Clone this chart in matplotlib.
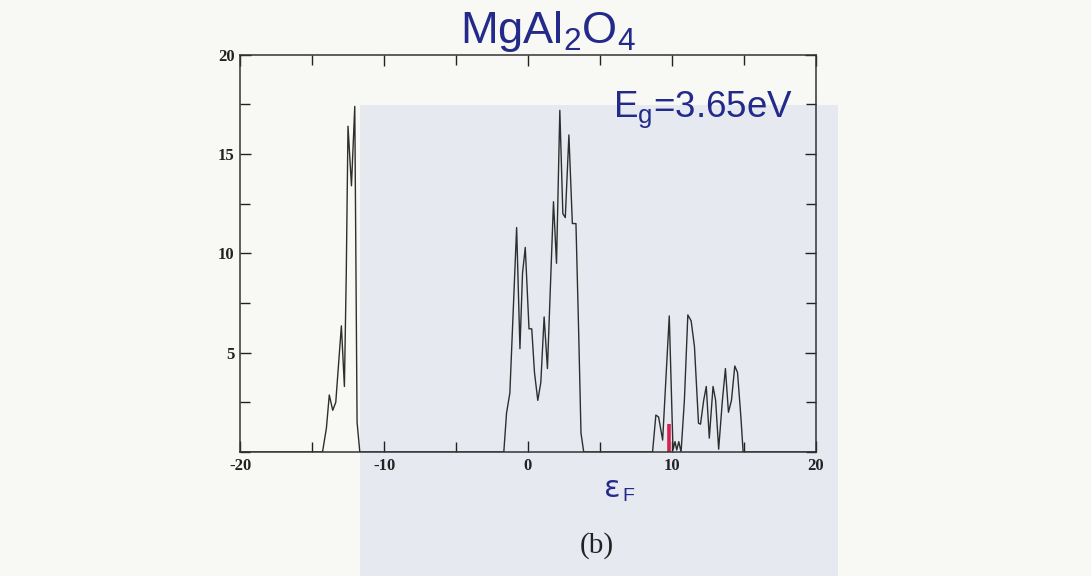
import matplotlib
matplotlib.use('Agg')
import matplotlib.pyplot as plt
from matplotlib.patches import Rectangle
from matplotlib.ticker import MultipleLocator

# density of states (energy in eV, DOS)
energy = [-20.0, -14.27, -14.0, -13.8, -13.56, -13.35, -12.96, -12.75, -12.62,
          -12.5, -12.26, -12.03, -11.87, -11.68,
          -1.68, -1.49, -1.26, -0.79, -0.56, -0.38, -0.19, 0.07, 0.26, 0.45,
          0.68, 0.89, 1.12, 1.35, 1.77, 1.98, 2.21, 2.42, 2.59, 2.84, 3.08,
          3.33, 3.52, 3.68, 3.87,
          8.65, 8.88, 9.07, 9.35, 9.81, 10.07, 10.21, 10.33, 10.47, 10.63,
          10.86, 11.1, 11.33, 11.56, 11.84, 11.98, 12.2, 12.38, 12.59, 12.85,
          13.03, 13.24, 13.5, 13.71, 13.92, 14.13, 14.36, 14.55, 14.78, 14.94,
          20.0]
dos = [0.0, 0.0, 1.2, 2.87, 2.1, 2.5, 6.35, 3.3, 9.0,
       16.4, 13.4, 17.4, 1.5, 0.0,
       0.0, 1.96, 2.97, 11.3, 5.2, 9.0, 10.3, 6.2, 6.2, 4.0,
       2.6, 3.5, 6.8, 4.2, 12.6, 9.5, 17.2, 12.0, 11.8, 15.96, 11.5,
       11.5, 6.0, 0.95, 0.0,
       0.0, 1.86, 1.76, 0.6, 6.85, 0.1, 0.52, 0.1, 0.52, 0.0,
       2.6, 6.9, 6.6, 5.3, 1.45, 1.4, 2.6, 3.3, 0.7, 3.3,
       2.6, 0.14, 2.6, 4.2, 2.0, 2.6, 4.33, 4.0, 1.8, 0.0,
       0.0]

# red marker near the Fermi level
marker_x = 9.81
marker_h = 1.4

title = 'MgAl$_2$O$_4$'
gap_label = 'E$_\\mathrm{g}$=3.65eV'

blue = '#232a8a'

plt.rcParams['axes.unicode_minus'] = False
plt.rcParams['mathtext.fontset'] = 'custom'
plt.rcParams['mathtext.rm'] = 'Liberation Sans'
plt.rcParams['mathtext.it'] = 'Liberation Sans'

fig = plt.figure(figsize=(10.91, 5.76), dpi=100)
fig.patch.set_facecolor('#f8f8f4')

# pale slide behind the plot
fig.patches.append(Rectangle((360 / 1091, 0), (838 - 360) / 1091, (576 - 105) / 576,
                             transform=fig.transFigure, facecolor='#e6eaf0',
                             edgecolor='none', zorder=-5))

ax = fig.add_axes([240 / 1091, 124 / 576, 576 / 1091, 397.3 / 576])
ax.set_zorder(2)
ax.patch.set_alpha(0)

ax.plot(energy, dos, color='#2e2e2e', lw=1.0)
ax.vlines(marker_x, 0, marker_h, color='#d8204a', lw=2.6)

ax.set_xlim(-20, 20)
ax.set_ylim(0, 20)
ax.xaxis.set_major_locator(MultipleLocator(10))
ax.xaxis.set_minor_locator(MultipleLocator(5))
ax.yaxis.set_minor_locator(MultipleLocator(2.5))
ax.set_yticks([5, 10, 15, 20])
ax.tick_params(which='both', direction='in', top=True, right=True, width=1.0,
               colors='#222222', labelsize=12)
ax.tick_params(which='major', length=8, pad=4)
ax.tick_params(which='minor', length=7)
for lab in ax.get_xticklabels() + ax.get_yticklabels():
    lab.set_fontfamily('Liberation Serif')
    lab.set_fontweight('bold')
for sp in ax.spines.values():
    sp.set_linewidth(1.1)
    sp.set_color('#333333')

fig.text(548 / 1091, 1 - 43 / 576, title, color=blue, fontsize=32.5,
         family='Liberation Sans', ha='center', va='baseline')
ax.text(0.96, 0.842, gap_label, transform=ax.transAxes, color=blue, fontsize=26.5,
        family='Liberation Sans', ha='right', va='baseline')
fig.text(620 / 1091, 1 - 497 / 576, 'ε', color=blue, fontsize=22,
         family='DejaVu Sans', ha='right', va='baseline')
fig.text(622 / 1091, 1 - 501 / 576, 'F', color=blue, fontsize=14,
         family='Liberation Sans', ha='left', va='baseline')
fig.text(597 / 1091, 1 - 553 / 576, '(b)', color='#222222', fontsize=21,
         family='Liberation Serif', ha='center', va='baseline')

fig.savefig('out.png', dpi=100, facecolor=fig.get_facecolor())
